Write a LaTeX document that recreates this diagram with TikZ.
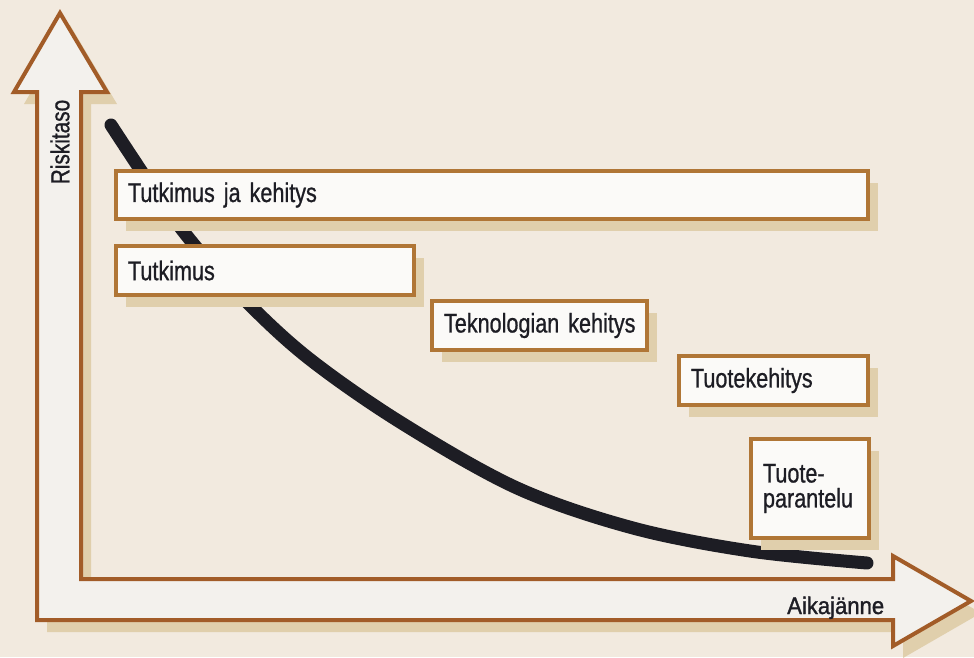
\documentclass[tikz,border=0pt]{standalone}
\usepackage{fontspec}
\setmainfont{Liberation Sans}[FakeStretch=0.8, FakeBold=0.8, WordSpace=0.8]
\newfontfamily\axisfont{Liberation Sans}[FakeStretch=0.92, FakeBold=1.3]
\usetikzlibrary{shadows}

\definecolor{paper}{HTML}{F2EADF}
\definecolor{brd}{HTML}{A25C28}
\definecolor{boxbrd}{HTML}{B07636}
\definecolor{boxw}{HTML}{FBFAF8}
\definecolor{axisw}{HTML}{F3F1ED}
\definecolor{shad}{HTML}{E0CFAC}
\definecolor{ink}{HTML}{1D1D24}

\tikzset{
  softshadow/.style={drop shadow={shadow xshift=10pt, shadow yshift=-12pt, fill=shad, opacity=1}},
  stage/.style={draw=boxbrd, line width=4pt, fill=boxw, softshadow, rectangle,
    anchor=north west, inner xsep=12pt, inner ysep=0pt, align=left,
    text=ink, font=\fontsize{27}{27}\selectfont},
  axislabel/.style={text=ink, inner sep=0pt},
}

\begin{document}
\begin{tikzpicture}[x=1pt, y=-1pt]
  % canvas
  \fill[paper] (0,0) rectangle (974,657);
  \useasboundingbox (0,0) rectangle (974,657);

  % L-shaped double axis arrow
  \draw[brd, line width=4pt, fill=axisw, line join=miter, softshadow]
    (60,13) -- (107,92) -- (81,92) -- (81,579) -- (893,579) -- (893,556)
    -- (971,601) -- (893,646) -- (893,620) -- (37,620) -- (37,92) -- (14,92) -- cycle;

  \node[axislabel, rotate=90, font=\fontsize{26}{26}\selectfont] (ylab) at (60,142) {Riskitaso};
  \node[axislabel, anchor=base west, font=\axisfont\fontsize{24}{26}\selectfont] (xlab) at (787,614) {Aikajänne};

  % risk curve
  \draw[ink, line width=13pt, line cap=round]
    plot[smooth, tension=0.55] coordinates {(111,125) (180,227) (240,295) (307,357)
      (400,422) (517,488) (633,528) (750,551) (867,563)};

  % phases
  \node[stage, text width=728pt, minimum height=48pt] (rd) at (114,169) {\mbox{Tutkimus ja kehitys}};
  \node[stage, text width=274pt, minimum height=49pt] (res) at (114,244) {\mbox{Tutkimus}};
  \node[stage, text width=191pt, minimum height=49pt] (tech) at (430,299) {\mbox{Teknologian kehitys}};
  \node[stage, text width=165pt, minimum height=49pt] (prod) at (677,354) {\mbox{Tuotekehitys}};
  \node[stage, text width=94pt, minimum height=99pt, font=\fontsize{27}{25}\selectfont] (impr) at (749,437) {Tuote-\\parantelu};
\end{tikzpicture}
\end{document}
